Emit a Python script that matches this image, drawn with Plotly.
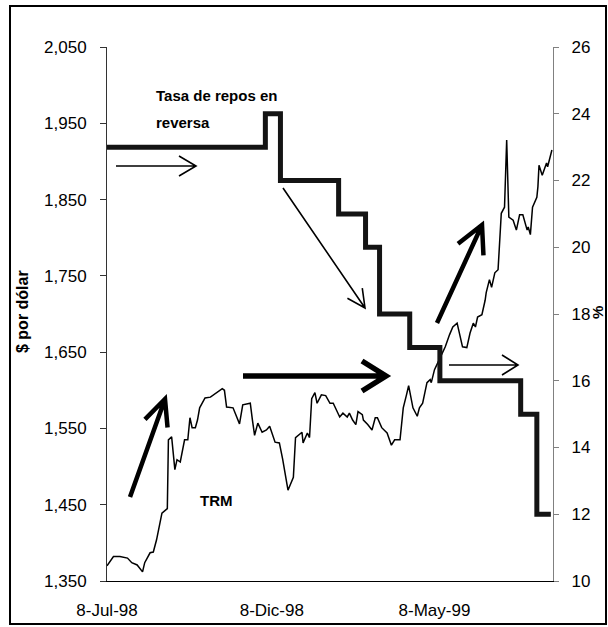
import plotly.graph_objects as go

# ---------------- data ----------------
trm_dates = [
    "1998-07-08", "1998-07-14", "1998-07-20", "1998-07-27", "1998-07-31", "1998-08-05",
    "1998-08-10", "1998-08-12", "1998-08-17", "1998-08-20", "1998-08-23", "1998-08-28",
    "1998-09-02", "1998-09-03", "1998-09-06", "1998-09-09", "1998-09-11", "1998-09-14",
    "1998-09-18", "1998-09-21", "1998-09-23", "1998-09-25", "1998-09-28", "1998-09-30",
    "1998-10-02", "1998-10-07", "1998-10-12", "1998-10-18", "1998-10-23", "1998-10-25",
    "1998-10-27", "1998-11-02", "1998-11-08", "1998-11-11", "1998-11-18", "1998-11-20",
    "1998-11-22", "1998-11-25", "1998-11-29", "1998-12-03", "1998-12-06", "1998-12-11",
    "1998-12-15", "1998-12-18", "1998-12-23", "1998-12-28", "1998-12-30", "1999-01-05",
    "1999-01-06", "1999-01-10", "1999-01-12", "1999-01-14", "1999-01-17", "1999-01-19",
    "1999-01-23", "1999-01-27", "1999-01-31", "1999-02-03", "1999-02-06", "1999-02-09",
    "1999-02-12", "1999-02-16", "1999-02-18", "1999-02-21", "1999-02-24", "1999-02-26",
    "1999-03-02", "1999-03-03", "1999-03-07", "1999-03-11", "1999-03-14", "1999-03-16",
    "1999-03-20", "1999-03-25", "1999-03-29", "1999-04-01", "1999-04-06", "1999-04-09",
    "1999-04-12", "1999-04-14", "1999-04-18", "1999-04-22", "1999-04-24", "1999-04-27",
    "1999-05-01", "1999-05-04", "1999-05-05", "1999-05-08", "1999-05-11", "1999-05-15",
    "1999-05-18", "1999-05-22", "1999-05-25", "1999-05-29", "1999-05-31", "1999-06-03",
    "1999-06-07", "1999-06-10", "1999-06-13", "1999-06-15", "1999-06-17", "1999-06-21",
    "1999-06-24", "1999-06-25", "1999-06-28", "1999-06-30", "1999-07-03", "1999-07-06",
    "1999-07-09", "1999-07-12", "1999-07-14", "1999-07-16", "1999-07-20", "1999-07-23",
    "1999-07-26", "1999-07-29", "1999-08-02", "1999-08-03", "1999-08-05", "1999-08-07",
    "1999-08-11", "1999-08-12", "1999-08-13", "1999-08-16", "1999-08-20", "1999-08-21",
    "1999-08-25",
]
trm_values = [
    1370, 1382, 1382, 1380, 1374, 1371,
    1362, 1374, 1387, 1388, 1404, 1439,
    1445, 1535, 1539, 1496, 1509, 1506,
    1535, 1535, 1564, 1551, 1551, 1561,
    1577, 1590, 1591, 1597, 1602, 1600,
    1578, 1577, 1556, 1581, 1583, 1561,
    1541, 1557, 1545, 1548, 1553, 1532,
    1531, 1510, 1469, 1486, 1538, 1545,
    1531, 1544, 1538, 1589, 1597, 1583,
    1594, 1593, 1583, 1583, 1574, 1565,
    1570, 1565, 1570, 1561, 1555, 1572,
    1568, 1561, 1555, 1548, 1564, 1564,
    1551, 1544, 1528, 1535, 1535, 1577,
    1594, 1606, 1577, 1566, 1577, 1583,
    1610, 1614, 1610, 1627, 1636, 1649,
    1657, 1673, 1683, 1688, 1675, 1657,
    1656, 1675, 1688, 1683, 1696, 1699,
    1718, 1728, 1745, 1735, 1754, 1758,
    1832, 1840, 1928, 1827, 1823, 1810,
    1830, 1830, 1810, 1814, 1804, 1840,
    1853, 1867, 1895, 1882, 1898, 1893,
    1915,
]

repo_dates = ["1998-07-08", "1998-12-02", "1998-12-16", "1999-02-08", "1999-03-05",
              "1999-03-18", "1999-04-15", "1999-05-13", "1999-07-27", "1999-08-11",
              "1999-08-24"]
repo_values = [23, 24, 22, 21, 20, 18, 17, 16, 15, 12, 12]

x_tickvals = ["1998-07-08", "1998-12-08", "1999-05-08"]
x_ticktext = ["8-Jul-98", "8-Dic-98", "8-May-99"]

# ---------------- layout geometry ----------------
W, H = 608, 627
ML, MR, MT, MB = 107, 55, 47, 46
PW, PH = W - ML - MR, H - MT - MB


def fx(px):
    return (px - ML) / PW


def fy(py):
    return (H - MB - py) / PH


FONT = "Liberation Sans, Arial, sans-serif"

fig = go.Figure()
fig.add_trace(go.Scatter(x=trm_dates, y=trm_values, mode="lines", name="TRM",
                         line=dict(color="black", width=1.5), yaxis="y"))
fig.add_trace(go.Scatter(x=repo_dates, y=repo_values, mode="lines",
                         name="Tasa de repos en reversa", line_shape="hv",
                         line=dict(color="#141414", width=5), yaxis="y2"))

fig.update_layout(
    width=W, height=H,
    margin=dict(l=ML, r=MR, t=MT, b=MB, pad=0, autoexpand=False),
    paper_bgcolor="white", plot_bgcolor="white",
    showlegend=False,
    font=dict(family=FONT, size=17, color="black"),
    xaxis=dict(range=["1998-07-08", "1999-08-26"], tickvals=x_tickvals,
               ticktext=x_ticktext, showgrid=False, zeroline=False,
               showline=True, linecolor="black", linewidth=1.2, ticks="",
               ticklabelstandoff=13, tickfont=dict(size=17), automargin=False),
    yaxis=dict(range=[1350, 2050], tick0=1350, dtick=100, tickformat=",d",
               showgrid=False, zeroline=False, showline=True,
               linecolor="#333333", linewidth=1, ticks="outside", ticklen=6,
               tickcolor="#333333", ticklabelstandoff=10, tickfont=dict(size=17),
               automargin=False),
    yaxis2=dict(range=[10, 26], tick0=10, dtick=2, overlaying="y", side="right",
                showgrid=False, zeroline=False, showline=True,
                linecolor="#808080", linewidth=1.2, ticks="outside", ticklen=5,
                tickcolor="#808080", ticklabelstandoff=9, tickfont=dict(size=17),
                automargin=False),
)

# axis titles and labels
annots = [
    dict(text="<b>$ por dólar</b>", x=fx(22), y=fy(312), textangle=-90,
         font=dict(size=16)),
    dict(text="<b>%</b>", x=fx(597), y=fy(313), textangle=-90, font=dict(size=15)),
    dict(text="<b>Tasa de repos en</b>", x=fx(154), y=fy(95), xanchor="left",
         font=dict(size=15)),
    dict(text="<b>reversa</b>", x=fx(154), y=fy(122), xanchor="left",
         font=dict(size=15)),
    dict(text="<b>TRM</b>", x=fx(216), y=fy(500), font=dict(size=15)),
]
for a in annots:
    a.update(xref="paper", yref="paper", showarrow=False)
    a.setdefault("xanchor", "center")
    a["yanchor"] = "middle"
    fig.add_annotation(**a)

# decorative arrows: (start, tip, width, head length, head half-width) in pixels
arrows = [
    ((116, 166), (196, 166), 1.6, 17, 10),
    ((283, 188), (365, 308), 1.6, 18, 9),
    ((243, 376), (386, 376), 5.5, 24, 15),
    ((130, 497), (165, 399), 4.5, 26, 12),
    ((437, 323), (482, 225), 4.5, 27, 14),
    ((449, 365), (518, 365), 1.6, 16, 10),
]
for (x0, y0), (x1, y1), w, hl, hw in arrows:
    dx, dy = x1 - x0, y1 - y0
    n = (dx * dx + dy * dy) ** 0.5
    ux, uy = dx / n, dy / n
    px_, py_ = -uy, ux
    bx, by = x1 - ux * hl, y1 - uy * hl
    w1 = (bx + px_ * hw, by + py_ * hw)
    w2 = (bx - px_ * hw, by - py_ * hw)
    path = (f"M{fx(x0)},{fy(y0)} L{fx(x1)},{fy(y1)} "
            f"M{fx(w1[0])},{fy(w1[1])} L{fx(x1)},{fy(y1)} L{fx(w2[0])},{fy(w2[1])}")
    fig.add_shape(type="path", path=path, xref="paper", yref="paper",
                  line=dict(color="black", width=w))

# outer border of the chart
fig.add_shape(type="rect", xref="paper", yref="paper",
              x0=fx(10), x1=fx(606), y0=fy(624), y1=fy(6),
              line=dict(color="black", width=2))

fig.write_html("out.html",
               config={"displayModeBar": False},
               post_script="document.body.style.margin='0';"
                           "document.body.style.padding='0';")
